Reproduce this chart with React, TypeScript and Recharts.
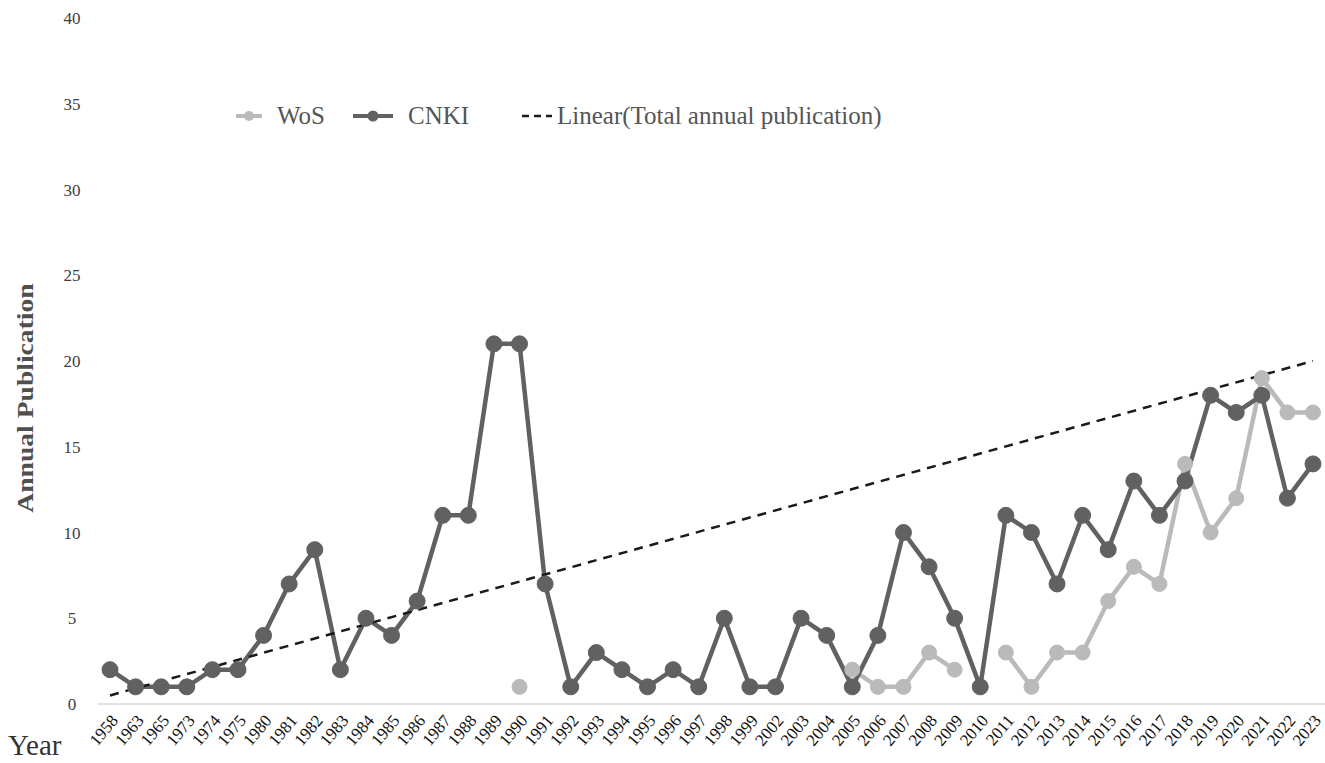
import { Line, LineChart, XAxis, YAxis } from "recharts";

const years = [
  "1958", "1963", "1965", "1973", "1974", "1975", "1980", "1981", "1982", "1983",
  "1984", "1985", "1986", "1987", "1988", "1989", "1990", "1991", "1992", "1993",
  "1994", "1995", "1996", "1997", "1998", "1999", "2002", "2003", "2004", "2005",
  "2006", "2007", "2008", "2009", "2010", "2011", "2012", "2013", "2014", "2015",
  "2016", "2017", "2018", "2019", "2020", "2021", "2022", "2023",
];

const cnki = [
  2, 1, 1, 1, 2, 2, 4, 7, 9, 2,
  5, 4, 6, 11, 11, 21, 21, 7, 1, 3,
  2, 1, 2, 1, 5, 1, 1, 5, 4, 1,
  4, 10, 8, 5, 1, 11, 10, 7, 11, 9,
  13, 11, 13, 18, 17, 18, 12, 14,
];

const wos: (number | null)[] = [
  null, null, null, null, null, null, null, null, null, null,
  null, null, null, null, null, null, 1, null, null, null,
  null, null, null, null, null, null, null, null, null, 2,
  1, 1, 3, 2, null, 3, 1, 3, 3, 6,
  8, 7, 14, 10, 12, 19, 17, 17,
];

// linear trend: first and last year only
const trendStart = 0.5;
const trendEnd = 20;

const yTicks = [0, 5, 10, 15, 20, 25, 30, 35, 40];

const data = years.map((year, i) => ({
  year,
  cnki: cnki[i],
  wos: wos[i],
  trend: i === 0 ? trendStart : i === years.length - 1 ? trendEnd : null,
}));

const FONT = "'Liberation Serif', 'Times New Roman', serif";
const WOS_COLOR = "#bababa";
const CNKI_COLOR = "#616161";

function YTick({ y, payload }: any) {
  return (
    <text x={72} y={y} dy={6} textAnchor="middle" fontFamily={FONT} fontSize={17} fill="#404040">
      {payload.value}
    </text>
  );
}

function XTick({ x, y, payload }: any) {
  return (
    <text
      transform={`translate(${x + 9},${y + 9}) rotate(-50)`}
      textAnchor="end"
      fontFamily={FONT}
      fontSize={17}
      fill="#111"
    >
      {payload.value}
    </text>
  );
}

function ChartLegend() {
  const text = {
    position: "absolute",
    top: 0,
    fontFamily: FONT,
    fontSize: 25,
    lineHeight: "30px",
    color: "#555",
    whiteSpace: "nowrap",
  } as const;
  const icon = { position: "absolute", top: 8 } as const;
  return (
    <div style={{ position: "absolute", top: 101, left: 0, width: 1325, height: 30 }}>
      <svg style={{ ...icon, left: 236 }} width={26} height={14}>
        <line x1={0} y1={7} x2={26} y2={7} stroke={WOS_COLOR} strokeWidth={4} />
        <circle cx={13} cy={7} r={5} fill={WOS_COLOR} />
      </svg>
      <span style={{ ...text, left: 277 }}>WoS</span>
      <svg style={{ ...icon, left: 353 }} width={40} height={14}>
        <line x1={0} y1={7} x2={40} y2={7} stroke={CNKI_COLOR} strokeWidth={4} />
        <circle cx={20} cy={7} r={5.5} fill={CNKI_COLOR} />
      </svg>
      <span style={{ ...text, left: 408 }}>CNKI</span>
      <svg style={{ ...icon, left: 522 }} width={30} height={14}>
        <line x1={0} y1={7} x2={30} y2={7} stroke="#1a1a1a" strokeWidth={2.5} strokeDasharray="7 5" />
      </svg>
      <span style={{ ...text, left: 557 }}>Linear(Total annual publication)</span>
    </div>
  );
}

export default function App() {
  return (
    <div style={{ position: "absolute", left: 0, top: 0, width: 1325, height: 763, background: "#fff" }}>
      <LineChart width={1325} height={763} data={data} margin={{ top: 18, right: 0, bottom: 0, left: 0 }}>
        <XAxis
          dataKey="year"
          interval={0}
          tick={<XTick />}
          tickLine={false}
          axisLine={{ stroke: "#d9d9d9", strokeWidth: 1.5 }}
          padding={{ left: 12, right: 12 }}
          height={59}
        />
        <YAxis
          domain={[0, 40]}
          ticks={yTicks}
          tick={<YTick />}
          axisLine={false}
          tickLine={false}
          width={98}
        />
        <Line
          dataKey="wos"
          stroke={WOS_COLOR}
          strokeWidth={4.5}
          dot={{ r: 7.5, fill: WOS_COLOR, stroke: WOS_COLOR, strokeWidth: 1 }}
          connectNulls={false}
          isAnimationActive={false}
        />
        <Line
          dataKey="cnki"
          stroke={CNKI_COLOR}
          strokeWidth={4.5}
          dot={{ r: 8, fill: CNKI_COLOR, stroke: CNKI_COLOR, strokeWidth: 1 }}
          isAnimationActive={false}
        />
        <Line
          dataKey="trend"
          stroke="#1a1a1a"
          strokeWidth={2.5}
          strokeDasharray="9 7"
          dot={false}
          connectNulls
          isAnimationActive={false}
        />
      </LineChart>
      <ChartLegend />
      <div
        style={{
          position: "absolute",
          left: 25,
          top: 398,
          transform: "translate(-50%, -50%) rotate(-90deg) scaleX(1.15)",
          fontFamily: FONT,
          fontSize: 24,
          fontWeight: 600,
          color: "#4f4f4f",
          whiteSpace: "nowrap",
        }}
      >
        Annual Publication
      </div>
      <div
        style={{
          position: "absolute",
          left: 8,
          top: 731,
          fontFamily: FONT,
          fontSize: 29,
          lineHeight: 1,
          color: "#333",
        }}
      >
        Year
      </div>
    </div>
  );
}
